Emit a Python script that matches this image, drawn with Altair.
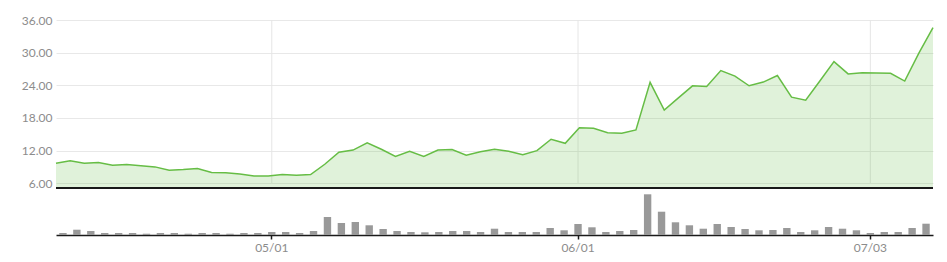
import altair as alt
import pandas as pd

dates = [
    "04/10", "04/11", "04/12", "04/13", "04/14", "04/17", "04/18", "04/19", "04/20", "04/21",
    "04/24", "04/25", "04/26", "04/27", "04/28",
    "05/01", "05/02", "05/03", "05/04", "05/05", "05/08", "05/09", "05/10", "05/11", "05/12",
    "05/15", "05/16", "05/17", "05/18", "05/19", "05/22", "05/23", "05/24", "05/25", "05/26",
    "05/30", "05/31",
    "06/01", "06/02", "06/05", "06/06", "06/07", "06/08", "06/09", "06/12", "06/13", "06/14",
    "06/15", "06/16", "06/20", "06/21", "06/22", "06/23", "06/26", "06/27", "06/28", "06/29",
    "06/30",
    "07/03", "07/05", "07/06", "07/07", "07/10",
]

price = [
    9.70, 10.15, 9.70, 9.82, 9.33, 9.45, 9.22, 9.02, 8.42, 8.53,
    8.72, 7.98, 7.95, 7.70, 7.36, 7.35, 7.62, 7.50, 7.62, 9.50,
    11.70, 12.10, 13.45, 12.25, 10.95, 11.90, 10.95, 12.10, 12.20, 11.15,
    11.80, 12.25, 11.90, 11.25, 12.00, 14.10, 13.35, 16.20, 16.10, 15.30,
    15.20, 15.80, 24.55, 19.45, 21.70, 23.90, 23.80, 26.72, 25.70, 23.92,
    24.60, 25.80, 21.82, 21.28, 24.80, 28.35, 26.10, 26.32, 26.25, 26.20,
    24.78, 29.90, 34.60,
]

volume = [
    2.0, 5.3, 4.0, 2.0, 2.0, 2.0, 1.3, 2.0, 2.0, 1.3,
    2.0, 2.0, 1.3, 2.0, 2.0, 3.0, 3.0, 2.0, 4.0, 18.0,
    12.0, 13.0, 9.7, 6.0, 4.0, 3.0, 2.7, 3.0, 4.0, 4.0,
    3.0, 6.3, 3.0, 3.0, 3.0, 7.0, 4.7, 11.0, 7.7, 3.0,
    4.0, 5.0, 40.7, 23.3, 12.7, 9.7, 6.3, 11.0, 8.0, 6.0,
    4.7, 5.0, 7.0, 3.0, 4.7, 8.0, 6.3, 4.7, 2.0, 3.0,
    3.0, 7.0, 11.3,
]

month_starts = ["05/01", "06/01", "07/03"]
price_ticks = [6, 12, 18, 24, 30, 36]
price_min = 5.14
price_max = 36

W = 877
H = 215
PRICE_H = 168

df = pd.DataFrame({"date": dates, "price": price, "volume": volume})
ms = pd.DataFrame({"date": month_starts})

GREEN = "#66bd45"
LABEL = "#8c8c8c"

point_x = alt.Scale(type="point", domain=dates, range=[0, W], padding=0)
band_x = alt.Scale(type="band", domain=dates, range=[0, W], paddingInner=0.47, paddingOuter=0.235)
price_y = alt.Scale(domain=[price_min, price_max], range=[PRICE_H, 0], zero=False, nice=False)
vol_y = alt.Scale(domain=[0, 45], range=[H, H - 45], zero=True, nice=False)

area = alt.Chart(df).mark_area(color=GREEN, fillOpacity=0.2, strokeWidth=0).encode(
    x=alt.X("date:O", scale=point_x, axis=None, sort=None),
    y=alt.Y("price:Q", scale=price_y, axis=None),
    y2=alt.Y2Datum(price_min),
)

line = alt.Chart(df).mark_line(color=GREEN, strokeWidth=1.5).encode(
    x=alt.X("date:O", scale=point_x, axis=None, sort=None),
    y=alt.Y(
        "price:Q",
        scale=price_y,
        axis=alt.Axis(
            values=price_ticks,
            format=".2f",
            grid=True,
            gridColor="#e8e8e8",
            domain=False,
            ticks=False,
            labelPadding=4,
            labelColor=LABEL,
            labelFontSize=12,
            title=None,
        ),
    ),
)

vgrid = alt.Chart(ms).mark_rule(color="#e6e6e6", strokeWidth=1).encode(
    x=alt.X("date:O", scale=band_x, axis=None, bandPosition=0.5),
    y=alt.YDatum(price_max, scale=price_y, axis=None),
    y2=alt.Y2Datum(price_ticks[0]),
)

base_rule = alt.Chart(df).mark_rule(color="#1a1a1a", strokeWidth=1.5).encode(
    y=alt.YDatum(price_min, scale=price_y, axis=None),
)

bars = alt.Chart(df).mark_bar(color="#999999").encode(
    x=alt.X(
        "date:O",
        scale=band_x,
        sort=None,
        axis=alt.Axis(
            values=month_starts,
            labelAngle=0,
            domainColor="#1a1a1a",
            domainWidth=1.5,
            tickColor="#1a1a1a",
            tickSize=4,
            tickWidth=1.5,
            labelColor=LABEL,
            labelFontSize=12,
            labelPadding=3,
            grid=False,
            title=None,
        ),
    ),
    y=alt.Y("volume:Q", scale=vol_y, axis=None),
)

chart = (
    alt.layer(vgrid, area, line, base_rule, bars)
    .resolve_scale(x="independent", y="independent")
    .properties(
        width=W,
        height=H,
        autosize=alt.AutoSizeParams(type="none"),
        padding={"left": 56, "top": 20, "right": 14, "bottom": 27},
    )
    .configure_view(stroke=None)
    .configure_axis(labelFont="Lato")
)

chart.save("out.html", embed_options={"renderer": "svg", "actions": False})
